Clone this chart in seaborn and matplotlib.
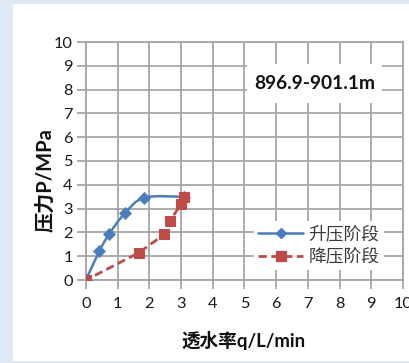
import matplotlib
matplotlib.use("Agg")
import matplotlib.pyplot as plt
from matplotlib.patches import Rectangle
from matplotlib.path import Path
from matplotlib.patches import PathPatch
from matplotlib.lines import Line2D
import numpy as np
import pandas as pd
import seaborn as sns

# Pressure-rise stage
rise_q = [0.0, 0.42, 0.74, 1.23, 1.84, 3.08]
rise_p = [0.0, 1.21, 1.95, 2.81, 3.46, 3.50]
# Pressure-drop stage
drop_q = [3.08, 3.00, 2.66, 2.47, 1.66, 0.0]
drop_p = [3.50, 3.20, 2.50, 1.92, 1.14, 0.0]

series_names = ["升压阶段", "降压阶段"]
depth_label = "896.9-901.1m"
x_label = "透水率q/L/min"
y_label = "压力P/MPa"
ticks = list(range(0, 11))

sns.set_style("white")
plt.rcParams["font.family"] = ["Lato", "Noto Sans CJK SC", "DejaVu Sans"]

BLUE = "#4a7ebb"
RED = "#be4b48"
GRID = "#a6a6a6"

fig = plt.figure(figsize=(4.1, 3.63), dpi=100, facecolor="#dee9f5")
fig.patches.append(Rectangle((13 / 410, 2 / 363), 1 - 13 / 410, 357 / 363,
                             transform=fig.transFigure, facecolor="white",
                             edgecolor="none", zorder=-10))

ax = fig.add_axes([86 / 410, 83 / 363, 317 / 410, 238 / 363])
ax.set_facecolor("white")
ax.set_xlim(0, 10)
ax.set_ylim(0, 10)
ax.set_xticks(ticks)
ax.set_yticks(ticks)
ax.grid(True, color=GRID, linewidth=1.3)
ax.set_axisbelow(True)
for s in ax.spines.values():
    s.set_color(GRID)
    s.set_linewidth(1.3)
ax.tick_params(axis="both", direction="out", length=6.5, width=1.3, color=GRID,
               labelsize=11.8, labelcolor="#1a1a1a", pad=3,
               bottom=True, left=True)
ax.tick_params(axis="x", pad=6)

# smooth curve through the rise points (Catmull-Rom as cubic Bezier)
pts = np.column_stack([rise_q, rise_p])
verts = [tuple(pts[0])]
codes = [Path.MOVETO]
n = len(pts)
for i in range(n - 1):
    p0 = pts[max(i - 1, 0)]
    p1 = pts[i]
    p2 = pts[i + 1]
    p3 = pts[min(i + 2, n - 1)]
    c1 = p1 + (p2 - p0) / 6.0
    c2 = p2 - (p3 - p1) / 6.0
    verts += [tuple(c1), tuple(c2), tuple(p2)]
    codes += [Path.CURVE4] * 3
ax.add_patch(PathPatch(Path(verts, codes), facecolor="none", edgecolor=BLUE,
                       linewidth=1.8, zorder=3))

rise_df = pd.DataFrame({"q": rise_q, "p": rise_p})
drop_df = pd.DataFrame({"q": drop_q, "p": drop_p})
sns.scatterplot(data=rise_df, x="q", y="p", ax=ax, marker="D", s=38,
                color=BLUE, edgecolor=BLUE, zorder=4, legend=False)
sns.lineplot(data=drop_df, x="q", y="p", ax=ax, sort=False, color=RED,
             linewidth=2.0, linestyle=(0, (3.0, 1.6)), marker="s",
             markersize=7, markeredgecolor=RED, zorder=5, legend=False)

ax.set_xlabel("")
ax.set_ylabel("")

# depth label with white box over the grid
ax.add_patch(Rectangle((5.08, 7.44), 4.26, 1.64, facecolor="white",
                       edgecolor="none", zorder=2))
ax.text(7.22, 8.26, depth_label, ha="center", va="center", fontsize=13.8,
        fontweight="bold", color="#111111", zorder=6)

handles = [
    Line2D([0], [0], color=BLUE, linewidth=1.8, marker="D", markersize=5.5),
    Line2D([0], [0], color=RED, linewidth=2.0, linestyle=(0, (3.0, 1.6)),
           marker="s", markersize=6.5),
]
leg = ax.legend(handles, series_names, loc="center left",
                bbox_to_anchor=(5.3 / 10, 1.45 / 10), frameon=True,
                fontsize=12.8, handlelength=2.5, handletextpad=0.3,
                labelspacing=0.38, borderpad=0.25, borderaxespad=0.0)
leg.get_frame().set_facecolor("white")
leg.get_frame().set_edgecolor("none")
leg.get_frame().set_alpha(1.0)
for t in leg.get_texts():
    t.set_color("#3a3a3a")
leg.set_zorder(6)

fig.text(244 / 410, 1 - 341 / 363, x_label, ha="center", va="center",
         fontsize=13.4, fontweight="bold", color="#111111")
fig.text(45 / 410, 1 - 180 / 363, y_label, ha="center", va="center",
         rotation=90, fontsize=14.5, fontweight="bold", color="#111111")

fig.savefig("out.png", dpi=100, facecolor=fig.get_facecolor())
